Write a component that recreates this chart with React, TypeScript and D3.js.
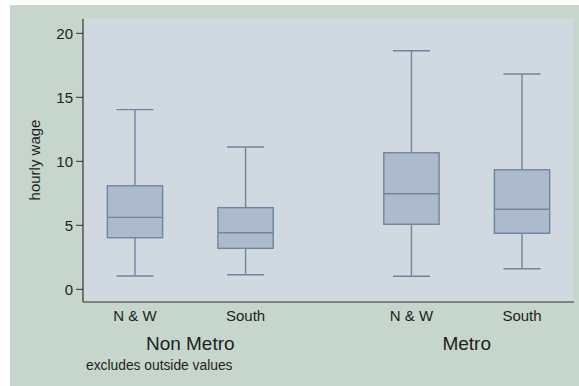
import React from "react";
import * as d3 from "d3";

const groups = ["Non Metro", "Metro"];
const regions = ["N & W", "South", "N & W", "South"];
const groupOf = [0, 0, 1, 1];
const slots = [0, 1, 2.5, 3.5];
const lowerWhisker = [1.04, 1.14, 1.02, 1.61];
const q1 = [4.03, 3.2, 5.08, 4.38];
const median = [5.62, 4.42, 7.47, 6.25];
const q3 = [8.09, 6.38, 10.67, 9.34];
const upperWhisker = [14.04, 11.12, 18.64, 16.82];
const yTicks = [0, 5, 10, 15, 20];
const yTitle = "hourly wage";
const note = "excludes outside values";

const W = 579;
const H = 386;

export default function App() {
  const plot = { left: 83, right: 574, top: 19, bottom: 302 };
  const x = d3.scaleLinear().domain([-0.47, 3.97]).range([plot.left, plot.right]);
  const y = d3.scaleLinear().domain([0, 20]).range([289.3, 33.3]);
  const unit = x(1) - x(0);
  const boxW = unit * 0.5;
  const capW = unit * 0.335;
  const stroke = "#6f85a0";
  const fill = "#adbacb";
  const font = "'Liberation Sans', Arial, Helvetica, sans-serif";
  const textColor = "#1e1e1e";

  const groupCenters = groups.map((_, g) => {
    const xs = slots.filter((_, i) => groupOf[i] === g).map((s) => x(s));
    return d3.mean(xs) as number;
  });

  return (
    <svg
      width={W}
      height={H}
      style={{ position: "absolute", left: 0, top: 0, display: "block" }}
      fontFamily={font}
    >
      <rect x={0} y={0} width={W} height={H} fill="#ffffff" />
      <rect x={10} y={5} width={W - 10} height={H - 5} fill="#c6d6cc" />
      <rect
        x={plot.left}
        y={plot.top}
        width={plot.right - plot.left}
        height={plot.bottom - plot.top}
        fill="#d0d9e0"
      />
      {slots.map((s, i) => {
        const cx = x(s);
        return (
          <g key={i} stroke={stroke} strokeWidth={1.4}>
            <line x1={cx} x2={cx} y1={y(upperWhisker[i])} y2={y(q3[i])} />
            <line x1={cx} x2={cx} y1={y(q1[i])} y2={y(lowerWhisker[i])} />
            <line x1={cx - capW / 2} x2={cx + capW / 2} y1={y(upperWhisker[i])} y2={y(upperWhisker[i])} />
            <line x1={cx - capW / 2} x2={cx + capW / 2} y1={y(lowerWhisker[i])} y2={y(lowerWhisker[i])} />
            <rect
              x={cx - boxW / 2}
              y={y(q3[i])}
              width={boxW}
              height={y(q1[i]) - y(q3[i])}
              fill={fill}
            />
            <line x1={cx - boxW / 2} x2={cx + boxW / 2} y1={y(median[i])} y2={y(median[i])} />
          </g>
        );
      })}
      <line x1={plot.left} x2={plot.left} y1={plot.top} y2={plot.bottom} stroke="#333" strokeWidth={1.2} />
      <line x1={plot.left} x2={plot.right} y1={plot.bottom} y2={plot.bottom} stroke="#333" strokeWidth={1.2} />
      {yTicks.map((t) => (
        <g key={t}>
          <line x1={plot.left - 7} x2={plot.left} y1={y(t)} y2={y(t)} stroke="#333" strokeWidth={1} />
          <text
            x={plot.left - 10}
            y={y(t)}
            textAnchor="end"
            dominantBaseline="central"
            fontSize={15}
            fill={textColor}
          >
            {t}
          </text>
        </g>
      ))}
      <text
        transform={`translate(34,160) rotate(-90)`}
        textAnchor="middle"
        dominantBaseline="central"
        fontSize={15}
        fill={textColor}
      >
        {yTitle}
      </text>
      {slots.map((s, i) => (
        <text
          key={i}
          x={x(s)}
          y={315}
          textAnchor="middle"
          dominantBaseline="central"
          fontSize={15}
          fill={textColor}
        >
          {regions[i]}
        </text>
      ))}
      {groups.map((g, k) => (
        <text
          key={g}
          x={groupCenters[k]}
          y={343}
          textAnchor="middle"
          dominantBaseline="central"
          fontSize={19}
          fill={textColor}
        >
          {g}
        </text>
      ))}
      <text x={86} y={365} dominantBaseline="central" fontSize={13.8} fill={textColor}>
        {note}
      </text>
    </svg>
  );
}
